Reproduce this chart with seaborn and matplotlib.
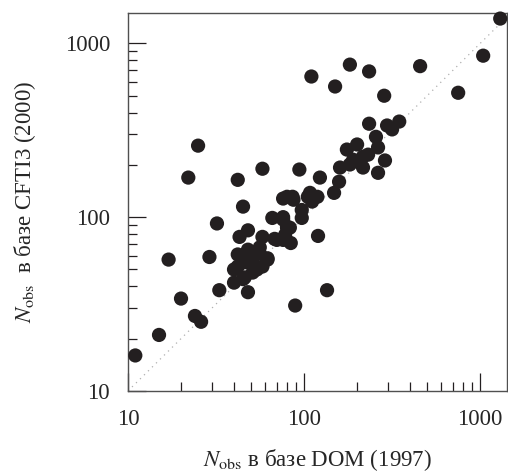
import numpy as np
import pandas as pd
import matplotlib
matplotlib.use("Agg")
import matplotlib.pyplot as plt
import seaborn as sns
from matplotlib.ticker import LogLocator, NullFormatter

# N_obs per earthquake: DOM (1997) vs CFTI3 (2000)
n_dom = [1300, 1040, 456, 750, 182, 234, 110, 150, 285, 25,
         22, 42, 58, 94, 234, 296, 347, 316, 256, 263,
         288, 263, 175, 200, 190, 216, 216, 160, 158, 123,
         148, 108, 119, 111, 76, 86, 97, 97, 66, 76,
         83, 68, 76, 84, 45, 32, 48, 43, 58, 120,
         17, 29, 42, 48, 56, 62, 42, 46, 51, 58,
         40, 46, 51, 33, 48, 135, 89, 20, 24, 26,
         15, 11, 231, 182, 80, 87, 105, 80, 76, 62,
         54, 45, 51, 40, 45, 56, 70, 78, 80]
n_cfti = [1390, 850, 740, 520, 755, 690, 645, 565, 500, 258,
          169, 164, 190, 188, 345, 337, 355, 320, 290, 252,
          212, 180, 245, 262, 214, 223, 193, 193, 160, 169,
          138, 138, 131, 123, 128, 131, 110, 99, 99, 97,
          87, 75, 74, 71, 115, 92, 84, 77, 77, 78,
          57, 59, 61, 65, 62, 57, 52, 55, 53, 52,
          42, 45, 48, 38, 37, 38, 31, 34, 27, 25,
          21, 16, 229, 201, 131, 126, 131, 87, 100, 58,
          50, 57, 57, 50, 44, 67, 74, 79, 88]

df = pd.DataFrame({"dom": n_dom, "cfti": n_cfti})

sns.set_style("ticks")
plt.rcParams["font.family"] = ["Liberation Serif", "DejaVu Serif"]
plt.rcParams["mathtext.fontset"] = "stix"

fig = plt.figure(figsize=(5.08, 4.75), dpi=100)
ax = fig.add_axes([0.252, 0.177, 0.746, 0.796])

# y = x reference line
ax.plot([10, 1500], [10, 1500], color="#b0b0b0", lw=0.9,
        linestyle=(0, (1, 3.5)), zorder=1)

sns.scatterplot(data=df, x="dom", y="cfti", ax=ax, s=105,
                color="#231f20", edgecolor="none", linewidth=0,
                zorder=3, clip_on=False, legend=False)

ax.set_xscale("log")
ax.set_yscale("log")
ax.set_xlim(10, 1420)
ax.set_ylim(10, 1500)

ax.xaxis.set_minor_locator(LogLocator(base=10, subs=np.arange(2, 10)))
ax.yaxis.set_minor_locator(LogLocator(base=10, subs=np.arange(2, 10)))
ax.xaxis.set_minor_formatter(NullFormatter())
ax.yaxis.set_minor_formatter(NullFormatter())
ax.set_xticks([10, 100, 1000])
ax.set_yticks([10, 100, 1000])
ax.set_xticklabels(["10", "100", "1000"])
ax.set_yticklabels(["10", "100", "1000"])

ax.tick_params(which="major", direction="in", length=13, width=0.9,
               labelsize=16.5, pad=13, color="#231f20")
ax.tick_params(which="minor", direction="in", length=6.5, width=0.9,
               color="#231f20")
ax.tick_params(top=False, right=False)

for sp in ax.spines.values():
    sp.set_visible(True)
    sp.set_color("#505050")
    sp.set_linewidth(1.0)

ax.set_xlabel(r"$N_{\mathrm{obs}}$ в базе DOM (1997)", fontsize=16.5,
              labelpad=12)
ax.set_ylabel(r"$N_{\mathrm{obs}}$  в базе CFTI3 (2000)", fontsize=16.5,
              labelpad=19)

fig.savefig("out.png", dpi=100)
